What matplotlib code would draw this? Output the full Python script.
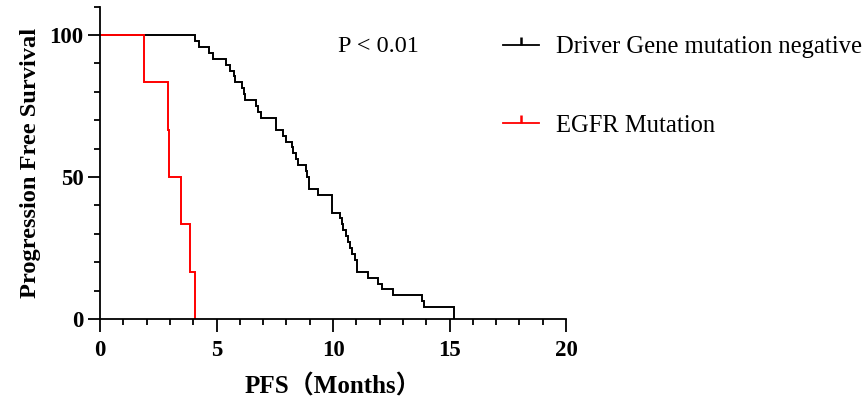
import matplotlib
matplotlib.use("Agg")
import matplotlib.pyplot as plt
from matplotlib.path import Path
from matplotlib.lines import Line2D
from matplotlib.ticker import MultipleLocator

# ---- data ----
neg_times = [4.08, 4.26, 4.68, 4.84, 5.41, 5.58, 5.75, 5.81, 6.11, 6.18, 6.24,
             6.68, 6.80, 6.92, 7.54, 7.87, 7.98, 8.23, 8.30, 8.40, 8.51, 8.83,
             8.90, 8.98, 9.37, 9.97, 10.30, 10.37, 10.44, 10.54, 10.63, 10.73,
             10.80, 10.94, 11.01, 11.49, 11.93, 12.12, 12.59, 13.80, 13.90, 15.19]
neg_surv = [97.9, 95.8, 93.8, 91.7, 89.6, 87.5, 85.4, 83.3, 81.3, 79.2, 77.1,
            75.0, 72.9, 70.8, 66.7, 64.6, 62.5, 60.4, 58.3, 56.3, 54.2, 52.1,
            50.0, 45.8, 43.8, 37.5, 35.4, 33.3, 31.3, 29.2, 27.1, 25.0,
            22.9, 20.8, 16.7, 14.6, 12.5, 10.4, 8.3, 6.3, 4.2, 0.0]
egfr_times = [1.89, 2.90, 2.97, 3.48, 3.88, 4.08]
egfr_surv = [83.3, 66.7, 50.0, 33.3, 16.7, 0.0]

series_labels = ["Driver Gene mutation negative", "EGFR Mutation"]
series_colors = ["#000000", "#ff0000"]
x_ticks = [0, 5, 10, 15, 20]
y_ticks = [0, 50, 100]
p_text = "P < 0.01"
x_label = "PFS\uff08Months\uff09"
y_label = "Progression Free Survival"

serif = ["Liberation Serif", "DejaVu Serif"]
plt.rcParams["font.family"] = serif

fig = plt.figure(figsize=(8.67, 4.05), dpi=100)
ax = fig.add_axes([100/867, (405-319)/405, 466/867, (319-6.6)/405])

for times, surv, col in [(neg_times, neg_surv, series_colors[0]),
                         (egfr_times, egfr_surv, series_colors[1])]:
    xs = [0] + times
    ys = [100] + surv
    ax.step(xs, ys, where="post", color=col, lw=1.4, solid_joinstyle="miter")

ax.set_xlim(0, 20)
ax.set_ylim(0, 110)
ax.set_xticks(x_ticks)
ax.set_yticks(y_ticks)
ax.xaxis.set_minor_locator(MultipleLocator(1))
ax.yaxis.set_minor_locator(MultipleLocator(10))
for s in ["top", "right"]:
    ax.spines[s].set_visible(False)
for s in ["left", "bottom"]:
    ax.spines[s].set_linewidth(1.3)
ax.tick_params(which="major", length=9, width=1.3, direction="out")
ax.tick_params(which="minor", length=4.5, width=1.3, direction="out")
ax.tick_params(axis="y", which="major", pad=3)
ax.tick_params(axis="x", which="major", pad=6)
for lab in ax.get_xticklabels() + ax.get_yticklabels():
    lab.set_fontsize(16.5)
    lab.set_fontweight("bold")
    lab.set_family(serif)

ax.set_xlabel(x_label, fontsize=18, fontweight="bold",
              family=["Liberation Serif", "Noto Sans CJK SC"], labelpad=10)
ax.set_ylabel(y_label, fontsize=17.6, fontweight="bold", labelpad=6)

ax.text(10.2, 95.8, p_text, fontsize=17.5, ha="left", va="center")

tick_marker = Path([(0, 0), (0, 1)], [Path.MOVETO, Path.LINETO])
handles = [Line2D([0], [0], color=c, lw=1.3, marker=tick_marker,
                  markersize=11, markeredgewidth=1.8, markeredgecolor=c)
           for c in series_colors]
fig.legend(handles, series_labels, loc="upper left",
           bbox_to_anchor=(503/867, 1 - 36/405), frameon=False, fontsize=17.7,
           handlelength=1.45, handletextpad=0.7, labelspacing=2.3, borderpad=0,
           borderaxespad=0)

fig.savefig("out.png", dpi=100)
